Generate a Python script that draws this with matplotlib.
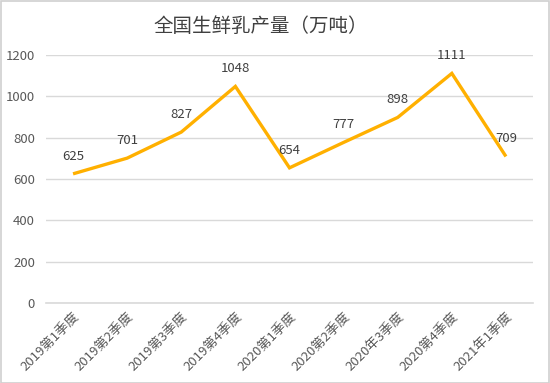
import matplotlib
matplotlib.use("Agg")
import matplotlib.pyplot as plt
import matplotlib.patches as mpatches

plt.rcParams["font.family"] = ["Noto Sans CJK SC", "DejaVu Sans"]

# ── Data ──────────────────────────────────────────────────────────────────────
quarters = ["2019第1季度", "2019第2季度", "2019第3季度", "2019第4季度",
            "2020第1季度", "2020第2季度", "2020年3季度", "2020第4季度",
            "2021年1季度"]
output = [625, 701, 827, 1048, 654, 777, 898, 1111, 709]
yticks = [0, 200, 400, 600, 800, 1000, 1200]

LINE = "#FFB000"
GRID = "#D9D9D9"
TICK = "#595959"
LABEL = "#404040"

W, H = 550, 383
fig = plt.figure(figsize=(W / 100, H / 100), dpi=100)
fig.patch.set_facecolor("white")

# thin grey frame round the whole chart
fig.add_artist(mpatches.Rectangle((0.5 / W, 0.5 / H), 1 - 1.5 / W, 1 - 1.5 / H,
                                  transform=fig.transFigure, fill=False,
                                  edgecolor="#D0D0D0", linewidth=1.2))

ax = fig.add_axes([46 / W, 1 - 303 / H, (533 - 46) / W, (303 - 55) / H])
x = list(range(len(quarters)))
ax.plot(x, output, color=LINE, linewidth=2.4, solid_capstyle="butt",
        solid_joinstyle="miter", zorder=3)

for xi, v in zip(x, output):
    ax.annotate(str(v), (xi, v), xytext=(0, 8), textcoords="offset points",
                ha="center", va="bottom", fontsize=9.5, color=LABEL)

ax.set_xlim(-0.5, len(quarters) - 0.5)
ax.set_ylim(0, 1200)
ax.set_yticks(yticks)
ax.set_yticklabels([str(t) for t in yticks])
ax.set_xticks(x)
ax.set_xticklabels(quarters, rotation=45, ha="right", va="top",
                   rotation_mode="anchor")
ax.tick_params(axis="both", length=0, colors=TICK)
ax.tick_params(axis="y", pad=8, labelsize=9.5)
ax.tick_params(axis="x", pad=5, labelsize=9.5)
ax.grid(True, axis="y", color=GRID, linewidth=1)
ax.axhline(0, color=GRID, linewidth=1.2, clip_on=False, zorder=1)
ax.set_axisbelow(True)
for s in ax.spines.values():
    s.set_visible(False)

fig.text(0.5 - 14 / W, 1 - 26 / H, "全国生鲜乳产量（万吨）", ha="center", va="center",
         fontsize=14, color="#404040")

fig.savefig("out.png", dpi=100)
